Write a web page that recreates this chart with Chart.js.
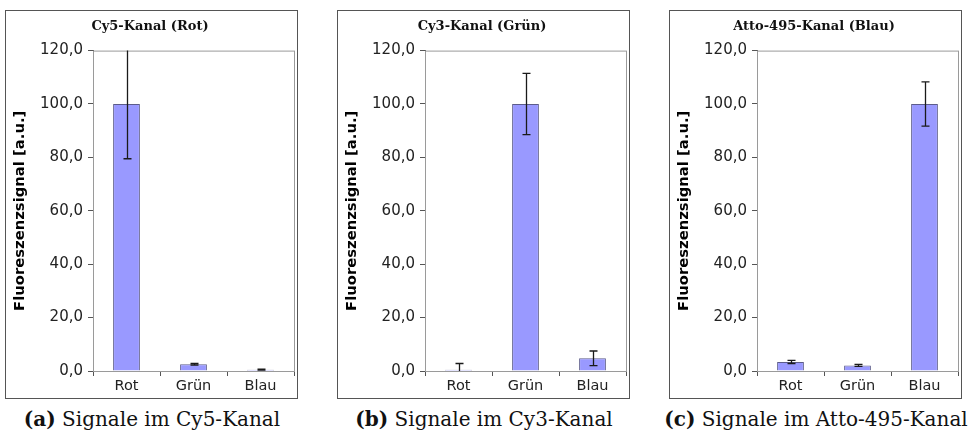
<!DOCTYPE html>
<html>
<head>
<meta charset="utf-8">
<script src="https://cdn.jsdelivr.net/npm/chart.js@4.4.0/dist/chart.umd.min.js"></script>
<style>
body { margin: 0; background: #fff; width: 974px; height: 434px; position: relative; overflow: hidden; }
.panel { position: absolute; top: 10px; width: 291px; height: 387px; border: 1px solid #555; }
.panel canvas { display: block; }
.cap { position: absolute; top: 406px; width: 332px; text-align: center; font-family: "DejaVu Serif", serif; font-size: 20px; line-height: 26px; color: #111; white-space: nowrap; }
.cap b { font-weight: bold; }
</style>
</head>
<body>
<div class="panel" style="left:5px"><canvas id="c1" width="291" height="387"></canvas></div>
<div class="panel" style="left:337px"><canvas id="c2" width="291" height="387"></canvas></div>
<div class="panel" style="left:669px"><canvas id="c3" width="291" height="387"></canvas></div>
<div class="cap" style="left:-14px"><b>(a)</b> Signale im Cy5-Kanal</div>
<div class="cap" style="left:318px"><b>(b)</b> Signale im Cy3-Kanal</div>
<div class="cap" style="left:650px"><b>(c)</b> Signale im Atto-495-Kanal</div>

<script>
// Kategorien und Messwerte (normiert auf 100)
const categories = ['Rot', 'Grün', 'Blau'];
const titles = ['Cy5-Kanal (Rot)', 'Cy3-Kanal (Grün)', 'Atto-495-Kanal (Blau)'];

const cy5Values = [100, 2.5, 0.5];
const cy5Errors = [20.5, 0.3, 0.2];

const cy3Values = [0.5, 100, 4.75];
const cy3Errors = [2.3, 11.5, 2.75];

const attoValues = [3.4, 2.1, 100];
const attoErrors = [0.6, 0.4, 8.3];

const yMax = 120;
const yStep = 20;

// Fehlerbalken + Rahmen um den Plotbereich
const errorBars = {
    id: 'errorBars',
    beforeDatasetsDraw(chart) {
        const a = chart.chartArea;
        const ctx = chart.ctx;
        ctx.save();
        ctx.strokeStyle = '#9a9a9a';
        ctx.lineWidth = 1;
        ctx.strokeRect(a.left + 0.5, a.top + 0.5, a.right - a.left, a.bottom - a.top);
        ctx.restore();
    },
    afterDatasetsDraw(chart) {
        const ctx = chart.ctx;
        const a = chart.chartArea;
        const y = chart.scales.y;
        const ds = chart.data.datasets[0];
        const meta = chart.getDatasetMeta(0);
        ctx.save();
        ctx.beginPath();
        ctx.rect(a.left, a.top, a.right - a.left, a.bottom - a.top);
        ctx.clip();
        ctx.strokeStyle = '#1a1a1a';
        ctx.lineWidth = 1.3;
        meta.data.forEach(function(bar, i) {
            const v = ds.data[i];
            const e = ds.errors[i];
            const yTop = y.getPixelForValue(v + e);
            const yBot = y.getPixelForValue(v - e);
            const x = Math.round(bar.x) + 0.5;
            ctx.beginPath();
            ctx.moveTo(x, yTop);
            ctx.lineTo(x, yBot);
            ctx.moveTo(x - 4, yTop);
            ctx.lineTo(x + 4, yTop);
            ctx.moveTo(x - 4, yBot);
            ctx.lineTo(x + 4, yBot);
            ctx.stroke();
        });
        ctx.restore();
    }
};

function makeChart(id, title, values, errors) {
    return new Chart(document.getElementById(id), {
        type: 'bar',
        data: {
            labels: categories,
            datasets: [{
                data: values,
                errors: errors,
                backgroundColor: '#9999ff',
                borderColor: '#5c5c8a',
                borderWidth: 1,
                barPercentage: 0.4,
                categoryPercentage: 1.0
            }]
        },
        options: {
            responsive: false,
            animation: false,
            layout: { padding: { right: 3, left: 0, top: 0, bottom: 0 } },
            plugins: {
                legend: { display: false },
                tooltip: { enabled: false },
                title: {
                    display: true,
                    text: title,
                    color: '#111',
                    font: { family: 'DejaVu Serif', size: 13, weight: 'bold' },
                    padding: { top: 8, bottom: 16 }
                }
            },
            scales: {
                x: {
                    grid: { display: true, drawOnChartArea: false, offset: true, tickLength: 5, color: '#555' },
                    border: { color: '#555', width: 1 },
                    ticks: { color: '#222', font: { family: 'DejaVu Sans', size: 14.5 }, padding: 2 },
                    afterFit: function(s) { s.height = 27; }
                },
                y: {
                    min: 0,
                    max: yMax,
                    grid: { drawOnChartArea: false, tickLength: 5, color: '#555' },
                    border: { color: '#555', width: 1 },
                    ticks: {
                        stepSize: yStep,
                        color: '#222',
                        padding: 5,
                        font: { family: 'DejaVu Sans', size: 15 },
                        callback: function(v) { return v.toFixed(1).replace('.', ','); }
                    },
                    title: {
                        display: true,
                        text: 'Fluoreszenzsignal [a.u.]',
                        color: '#000',
                        font: { family: 'DejaVu Sans', size: 14.8, weight: 'bold' },
                        padding: { top: 5, bottom: 0 }
                    },
                    afterFit: function(s) { s.width = 87; }
                }
            }
        },
        plugins: [errorBars]
    });
}

makeChart('c1', titles[0], cy5Values, cy5Errors);
makeChart('c2', titles[1], cy3Values, cy3Errors);
makeChart('c3', titles[2], attoValues, attoErrors);
</script>
</body>
</html>
